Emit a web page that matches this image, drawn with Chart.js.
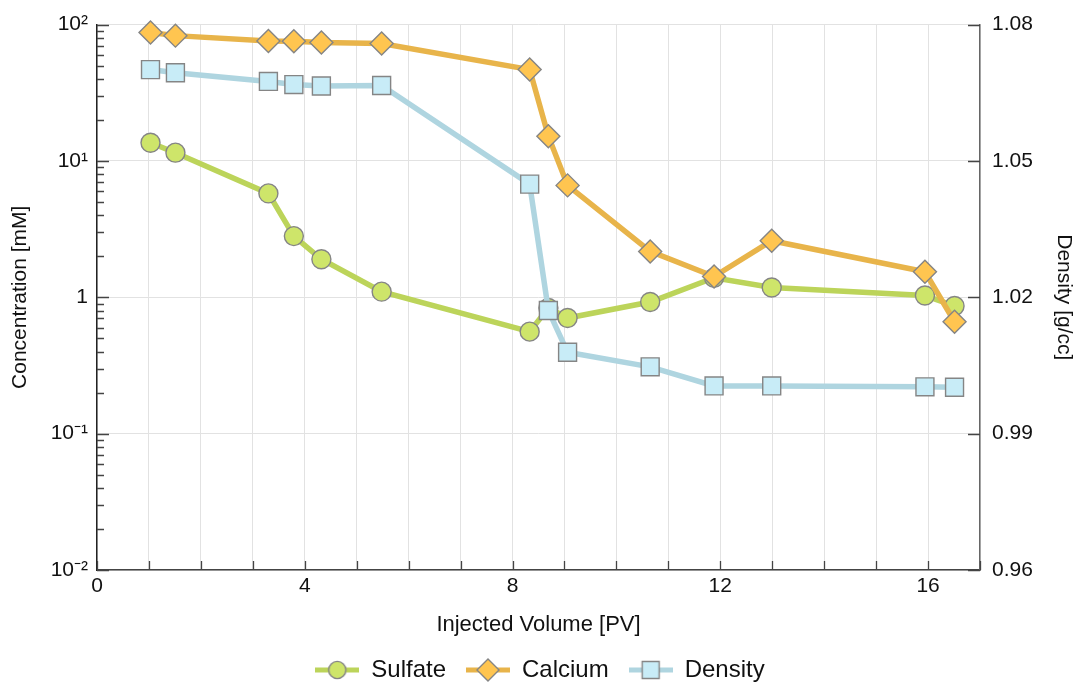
<!doctype html>
<head>
<style>
* {
    box-sizing: border-box;
    margin: 0;
    padding: 0;
}
body {
    background: #fff;
}
#wrap {
    position: relative;
    width: 1080px;
    height: 682px;
}
</style>
</head>
<div id="wrap"><canvas></canvas></div>
<script src="https://cdn.jsdelivr.net/npm/chart.js"></script>
<script>

// injected volume [PV], shared by all three series
let pv = [1.03, 1.51, 3.30, 3.79, 4.32, 5.48, 8.33, 8.69, 9.06, 10.65, 11.88, 12.99, 15.94, 16.51]
// concentrations [mM]
let sulfate = [13.6, 11.5, 5.78, 2.81, 1.90, 1.10, 0.560, 0.835, 0.705, 0.924, 1.39, 1.18, 1.03, 0.863]
let calcium = [87.4, 83.0, 75.8, 75.5, 73.8, 72.6, 46.8, 15.2, 6.62, 2.17, 1.42, 2.60, 1.54, 0.662]
// density [g/cc]
let density = [1.0701, 1.0694, 1.0675, 1.0668, 1.0665, 1.0666, 1.0449, 1.0171, 1.0079, 1.0047, 1.0005, 1.0005, 1.0003, 1.0002]

let xLabels = [0, 4, 8, 12, 16]
let concTicks = [0.01, 0.1, 1, 10, 100]
let concLabels = ['10⁻²', '10⁻¹', '1', '10¹', '10²']
let densTicks = [0.96, 0.99, 1.02, 1.05, 1.08]

let font = '"Liberation Sans", Arial, Helvetica, sans-serif'
let textColor = '#111'
let markerBorder = '#858585'

let styles = [
    { line: '#bcd45a', fill: '#cee56a', shape: 'circle', radius: 9.5 },
    { line: '#e8b44a', fill: '#ffc550', shape: 'rectRot', radius: 11.5 },
    { line: '#afd5e0', fill: '#c8ecf7', shape: 'rect', radius: 12.7 },
]

function legendIcon(st) {
    let c = document.createElement('canvas')
    c.width = 44
    c.height = 26
    let g = c.getContext('2d')
    g.strokeStyle = st.line
    g.lineWidth = 5
    g.beginPath()
    g.moveTo(0, 13)
    g.lineTo(44, 13)
    g.stroke()
    g.fillStyle = st.fill
    g.strokeStyle = markerBorder
    g.lineWidth = 1.4
    g.beginPath()
    if (st.shape === 'circle') {
        g.arc(22, 13, 8.6, 0, Math.PI * 2)
    } else if (st.shape === 'rectRot') {
        g.moveTo(22, 2); g.lineTo(33, 13); g.lineTo(22, 24); g.lineTo(11, 13); g.closePath()
    } else {
        g.rect(13.5, 4.5, 17, 17)
    }
    g.fill()
    g.stroke()
    return c
}
let icons = styles.map(legendIcon)

function series(label, values, axis, st, order) {
    return {
        label,
        data: pv.map((x, i) => ({ x, y: values[i] })),
        yAxisID: axis,
        order,
        borderColor: st.line,
        borderWidth: 5.5,
        tension: 0,
        pointStyle: st.shape,
        pointRadius: st.radius,
        pointHoverRadius: st.radius,
        pointBackgroundColor: st.fill,
        pointBorderColor: markerBorder,
        pointBorderWidth: 1.4,
        clip: false,
    }
}

// short tick marks drawn inward from each axis
let innerTicks = {
    id: 'innerTicks',
    beforeDatasetsDraw(chart) {
        let { ctx, chartArea: a, scales } = chart
        ctx.save()
        ctx.lineWidth = 1.3
        ctx.strokeStyle = '#444'
        ctx.beginPath()
        for (let t of scales.x.ticks) {
            let px = Math.round(scales.x.getPixelForValue(t.value)) + 0.5
            ctx.moveTo(px, a.bottom)
            ctx.lineTo(px, a.bottom - 9)
        }
        for (let k = 0; k < concTicks.length; k++) {
            let py = Math.round(scales.y.getPixelForValue(concTicks[k])) + 0.5
            ctx.moveTo(a.left, py)
            ctx.lineTo(a.left + 12, py)
            if (k === concTicks.length - 1) continue
            for (let m = 2; m < 10; m++) {
                let my = Math.round(scales.y.getPixelForValue(concTicks[k] * m)) + 0.5
                ctx.moveTo(a.left, my)
                ctx.lineTo(a.left + 7, my)
            }
        }
        for (let v of densTicks) {
            let py = Math.round(scales.y1.getPixelForValue(v)) + 0.5
            ctx.moveTo(a.right, py)
            ctx.lineTo(a.right - 12, py)
        }
        ctx.stroke()
        ctx.restore()
    },
}

let chart = new Chart(document.querySelector('canvas'), {
    type: 'line',
    data: {
        datasets: [
            series('Sulfate', sulfate, 'y', styles[0], 3),
            series('Calcium', calcium, 'y', styles[1], 2),
            series('Density', density, 'y1', styles[2], 1),
        ],
    },
    options: {
        animation: false,
        responsive: true,
        maintainAspectRatio: false,
        layout: { padding: { top: 24, left: 0, right: 0, bottom: 0 } },
        scales: {
            x: {
                type: 'linear',
                min: 0,
                max: 17,
                ticks: {
                    stepSize: 1,
                    autoSkip: false,
                    maxRotation: 0,
                    padding: 4,
                    color: textColor,
                    font: { family: font, size: 21 },
                    callback: v => xLabels.includes(v) ? String(v) : '',
                },
                grid: { color: '#e2e2e2', drawTicks: false },
                border: { color: '#444', width: 1.5 },
                title: {
                    display: true,
                    text: 'Injected Volume [PV]',
                    color: textColor,
                    font: { family: font, size: 22 },
                    padding: { top: 0, bottom: 0 },
                },
                afterFit: s => { s.height = 68 },
            },
            y: {
                type: 'logarithmic',
                position: 'left',
                min: 0.01,
                max: 100,
                afterBuildTicks: s => { s.ticks = concTicks.map(v => ({ value: v })) },
                ticks: {
                    padding: 9,
                    color: textColor,
                    font: { family: font, size: 21 },
                    callback: (v, i) => concLabels[i],
                },
                grid: { color: '#e2e2e2', drawTicks: false },
                border: { color: '#222', width: 1.5 },
                title: {
                    display: true,
                    text: 'Concentration [mM]',
                    color: textColor,
                    font: { family: font, size: 21 },
                    padding: { top: 8, bottom: 0 },
                },
                afterFit: s => { s.width = 97 },
            },
            y1: {
                type: 'linear',
                position: 'right',
                min: 0.96,
                max: 1.08,
                afterBuildTicks: s => { s.ticks = densTicks.map(v => ({ value: v })) },
                ticks: {
                    padding: 12,
                    color: textColor,
                    font: { family: font, size: 21 },
                    callback: v => v.toFixed(2),
                },
                grid: { drawOnChartArea: false, drawTicks: false },
                border: { color: '#666', width: 1.5 },
                title: {
                    display: true,
                    text: 'Density [g/cc]',
                    color: textColor,
                    font: { family: font, size: 21 },
                    padding: { top: 4, bottom: 0 },
                },
                afterFit: s => { s.width = 100 },
            },
        },
        plugins: {
            legend: {
                position: 'bottom',
                maxHeight: 44,
                labels: {
                    usePointStyle: true,
                    pointStyleWidth: 44,
                    padding: 20,
                    color: textColor,
                    font: { family: font, size: 24 },
                    generateLabels: c => c.data.datasets.map((ds, i) => ({
                        text: ds.label,
                        pointStyle: icons[i],
                        datasetIndex: i,
                        hidden: false,
                        lineWidth: 0,
                        fillStyle: 'transparent',
                        strokeStyle: 'transparent',
                        fontColor: textColor,
                    })),
                },
            },
            tooltip: { enabled: false },
        },
    },
    plugins: [innerTicks],
})

</script>
